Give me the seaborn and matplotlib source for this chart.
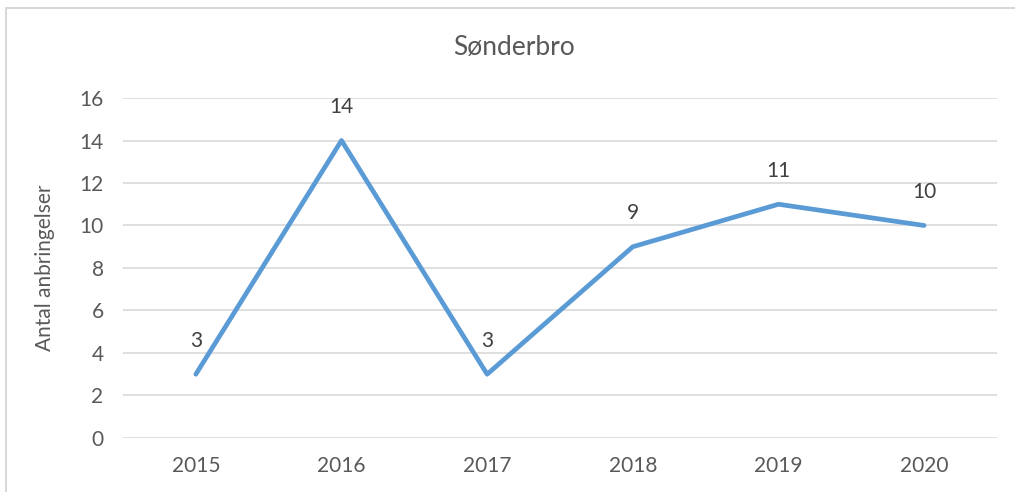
import matplotlib
matplotlib.use("Agg")
import matplotlib.pyplot as plt
import seaborn as sns
import pandas as pd
from matplotlib.patches import Rectangle

# chart data
years = ["2015", "2016", "2017", "2018", "2019", "2020"]
counts = [3, 14, 3, 9, 11, 10]
y_ticks = [0, 2, 4, 6, 8, 10, 12, 14, 16]

title = "Sønderbro"
y_label = "Antal anbringelser"

df = pd.DataFrame({"year": years, "count": counts})

sns.set_style("white")
plt.rcParams["font.family"] = ["Lato", "DejaVu Sans"]

text_color = "#595959"
grid_color = "#d9d9d9"
line_color = "#5b9bd5"

fig = plt.figure(figsize=(10.15, 4.92), dpi=100)
ax = fig.add_axes([0.1212, 0.1098, 0.861, 0.691])

# chart border like the Excel frame
fig.patches.append(Rectangle((6 / 1015, -0.1), 1.2, 1.1 - 8 / 492,
                             transform=fig.transFigure, fill=False,
                             edgecolor=grid_color, linewidth=1.5))

sns.lineplot(data=df, x="year", y="count", ax=ax, color=line_color,
             linewidth=3.4, sort=False)
for i, v in enumerate(counts):
    ax.annotate(str(v), (i, v), xytext=(0, 24), textcoords="offset points",
                ha="center", va="center", fontsize=15, color="#404040")

ax.set_xlim(-0.5, len(years) - 0.5)
ax.set_ylim(0, 16)
ax.set_yticks(y_ticks)
ax.yaxis.grid(True, color=grid_color, linewidth=1.2)
ax.xaxis.grid(False)
for s in ax.spines.values():
    s.set_visible(False)
ax.tick_params(axis="both", length=0, labelsize=15, colors=text_color)
ax.tick_params(axis="y", pad=14)
ax.tick_params(axis="x", pad=13)
ax.set_xlabel("")
ax.set_ylabel(y_label, fontsize=15, color=text_color, va="center")
ax.yaxis.set_label_coords(-0.089, 0.5)
fig.text(0.5065, 1 - 47 / 492, title, ha="center", va="center",
         fontsize=19, color=text_color)

fig.savefig("out.png", dpi=100)
